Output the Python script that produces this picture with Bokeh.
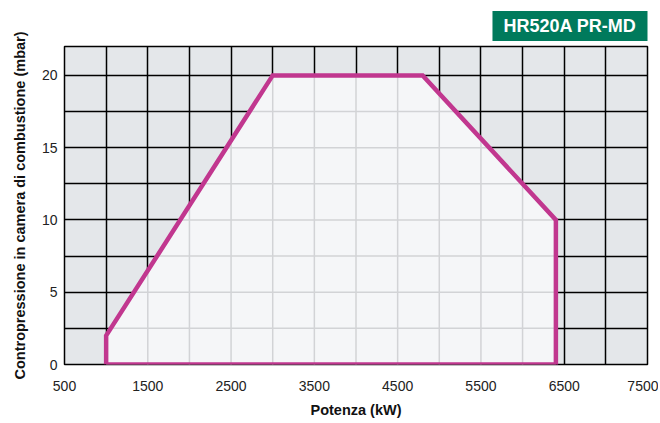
import numpy as np
from bokeh.plotting import figure
from bokeh.models import FixedTicker, Range1d, Title
from bokeh.embed import file_html
from bokeh.resources import INLINE

# ---- data ----
x_ticks = [500, 1500, 2500, 3500, 4500, 5500, 6500, 7500]
y_ticks = [0, 5, 10, 15, 20]
x_grid = [500, 1000, 1500, 2000, 2500, 3000, 3500, 4000, 4500, 5000, 5500, 6000, 6500, 7000, 7500]
y_grid = [0, 2.5, 5, 7.5, 10, 12.5, 15, 17.5, 20]
curve_kw = [1000, 1000, 3000, 4800, 6400, 6400]
curve_mbar = [0, 2, 20, 20, 10, 0]
title_text = "HR520A PR-MD"

FONT = "Liberation Sans"
MAGENTA = "#c1378f"

p = figure(frame_width=583, frame_height=318, output_backend="svg", toolbar_location=None,
           x_range=Range1d(500, 7500), y_range=Range1d(0, 22),
           min_border_left=64, min_border_right=11, min_border_top=46, min_border_bottom=0)

p.title = Title(text=title_text, align="right", text_font=FONT, text_font_style="bold",
                text_font_size="18px", text_color="white", background_fill_color="#007a5c",
                standoff=11, offset=0,
                padding=dict(left=11, right=11, top=5, bottom=5))
p.title_location = "above"

p.background_fill_color = "#e4e7ea"
p.border_fill_color = "white"
p.outline_line_color = "black"
p.outline_line_width = 1.5

for g in (p.xgrid, p.ygrid):
    g.grid_line_color = "black"
    g.grid_line_width = 1.5
p.xgrid.ticker = FixedTicker(ticks=x_grid)
p.ygrid.ticker = FixedTicker(ticks=y_grid)

p.xaxis.ticker = FixedTicker(ticks=x_ticks)
p.yaxis.ticker = FixedTicker(ticks=y_ticks)
for ax in (p.xaxis, p.yaxis):
    ax.axis_line_color = None
    ax.major_tick_line_color = None
    ax.minor_tick_line_color = None
    ax.major_label_text_font = FONT
    ax.major_label_text_font_size = "14px"
    ax.major_label_text_color = "#222222"
    ax.axis_label_text_font = FONT
    ax.axis_label_text_font_style = "bold"
    ax.axis_label_text_font_size = "14.5px"
    ax.axis_label_text_color = "#111111"
p.xaxis.axis_label = "Potenza (kW)"
p.yaxis.axis_label = "Contropressione in camera di combustione (mbar)"
p.xaxis.major_label_standoff = 10
p.yaxis.major_label_standoff = 1
p.xaxis.axis_label_standoff = 8
p.yaxis.axis_label_standoff = 11

# filled working area
p.patch(curve_kw, curve_mbar, fill_color="#f5f6f8", line_color=None)

# light grid lines inside the working area
top_x = curve_kw[1:5]
top_y = curve_mbar[1:5]
vx = [x for x in x_grid if curve_kw[0] < x < curve_kw[-1]]
vy_top = list(np.interp(vx, top_x, top_y))
p.segment(x0=vx, y0=[0] * len(vx), x1=vx, y1=vy_top, line_color="#d2d3d6", line_width=1.5)

hy = [y for y in y_grid if 0 < y < max(curve_mbar)]
left_x = list(np.interp(hy, [curve_mbar[0], curve_mbar[1], curve_mbar[2]], [curve_kw[0], curve_kw[1], curve_kw[2]]))
right_x = list(np.interp(hy, [curve_mbar[5], curve_mbar[4], curve_mbar[3]], [curve_kw[5], curve_kw[4], curve_kw[3]]))
p.segment(x0=left_x, y0=hy, x1=right_x, y1=hy, line_color="#d2d3d6", line_width=1.5)

# outline of the working area
p.line(curve_kw + [curve_kw[0]], curve_mbar + [curve_mbar[0]], line_color=MAGENTA,
       line_width=4.5, line_join="miter")

open("out.html", "w").write(file_html(p, INLINE))
